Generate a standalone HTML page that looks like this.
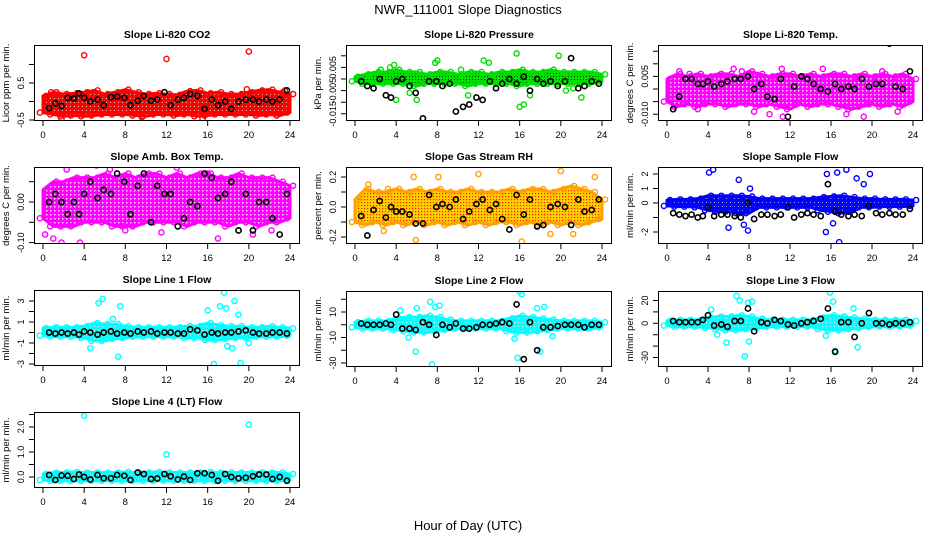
<!DOCTYPE html>
<html><head><meta charset="utf-8"><style>
html,body{margin:0;padding:0;background:#fff;}
svg text{font-family:"Liberation Sans",Arial,sans-serif;}
</style></head><body>
<svg id="chart" width="936" height="540" viewBox="0 0 936 540" xmlns="http://www.w3.org/2000/svg">
<defs>
<pattern id="pg" width="3" height="3" patternUnits="userSpaceOnUse"><rect width="3" height="3" fill="#00e000"/><rect x="1" y="1" width="1" height="1" fill="#004000"/></pattern>
<pattern id="po" width="3" height="3" patternUnits="userSpaceOnUse"><rect width="3" height="3" fill="#ffd000"/><rect x="1" y="1" width="1.2" height="1.2" fill="#ff2000"/></pattern>
<pattern id="pr" width="4" height="4" patternUnits="userSpaceOnUse"><rect width="4" height="4" fill="#ff0000"/><rect x="2" y="2" width="1" height="1" fill="#ffb0b0"/></pattern>
<pattern id="pm" width="4" height="4" patternUnits="userSpaceOnUse"><rect width="4" height="4" fill="#ff00ff"/><rect x="2" y="2" width="1.5" height="1.5" fill="#ffd0ff"/></pattern>
<pattern id="pb" width="4" height="4" patternUnits="userSpaceOnUse"><rect width="4" height="4" fill="#0000ff"/><rect x="2" y="2" width="1" height="1" fill="#a0a0ff"/></pattern>
<pattern id="pc" width="4" height="4" patternUnits="userSpaceOnUse"><rect width="4" height="4" fill="#00ffff"/><rect x="2" y="2" width="1" height="1" fill="#c0ffff"/></pattern>
</defs>
<text x="468" y="14" text-anchor="middle" font-size="13">NWR_111001  Slope Diagnostics</text>
<text x="468" y="530" text-anchor="middle" font-size="13">Hour of Day (UTC)</text>
</svg>
<script>
// shared hour grids
const bandHours = [0,1,2,3,4,5,6,7,8,9,10,11,12,13,14,15,16,17,18,19,20,21,22,23,24];
const blackHours = [0.6,1.2,1.8,2.4,3.0,3.5,4.0,4.6,5.3,5.9,6.6,7.2,7.9,8.5,9.2,9.8,10.5,11.1,11.8,12.4,13.1,13.7,14.3,15.0,15.7,16.4,17.0,17.7,18.3,19.0,19.7,20.4,21.0,21.7,22.3,23.0,23.7];
const xTickValues = [0,4,8,12,16,20,24];

// CO2
const co2Hi = [0.15,0.25,0.2,0.22,0.25,0.3,0.2,0.25,0.32,0.25,0.2,0.22,0.2,0.18,0.28,0.3,0.22,0.25,0.2,0.2,0.25,0.3,0.32,0.25,0.2];
const co2Lo = [-0.3,-0.35,-0.4,-0.38,-0.4,-0.38,-0.35,-0.35,-0.35,-0.38,-0.4,-0.35,-0.35,-0.38,-0.35,-0.4,-0.38,-0.35,-0.35,-0.35,-0.35,-0.38,-0.35,-0.38,-0.3];
const co2Black = [-0.18,-0.05,-0.12,0.1,0.08,0.22,0.1,0.0,0.05,-0.1,0.12,0.13,0.1,-0.1,0.02,0.15,0.02,0.05,0.25,-0.1,0.05,0.1,0.2,0.15,-0.2,0.05,-0.1,0.0,-0.2,0.0,0.05,0.05,0.0,0.05,0.0,0.05,0.3];
const co2OutX = [4,12,20,1.8,15.5,23.5,0.8,9.6,19.8];
const co2OutY = [1.25,1.15,1.35,-0.47,-0.47,0.3,0.25,-0.42,0.33];
// Pressure
const presHi = [0.001,0.002,0.003,0.003,0.004,0.003,0.003,0.002,0.003,0.003,0.002,0.003,0.003,0.002,0.003,0.003,0.004,0.003,0.003,0.004,0.003,0.003,0.003,0.003,0.002];
const presLo = [-0.001,-0.002,-0.002,-0.002,-0.002,-0.002,-0.003,-0.002,-0.002,-0.002,-0.002,-0.003,-0.002,-0.002,-0.002,-0.002,-0.003,-0.002,-0.002,-0.002,-0.002,-0.002,-0.002,-0.002,-0.001];
const presBlack = [-0.001,-0.003,-0.004,0.0,-0.007,-0.008,-0.001,0.0,-0.003,-0.006,-0.017,-0.001,-0.001,-0.003,-0.002,-0.014,-0.012,-0.011,-0.008,-0.009,-0.001,-0.004,-0.002,0.0,-0.002,0.001,-0.005,0.0,-0.002,-0.001,-0.003,-0.001,0.009,-0.004,-0.003,-0.001,-0.002];
const presOutX = [3.4,3.8,4,5.3,6,7.8,8,10.3,12.5,13,15.7,16,16.4,17,19.8,20.5,21.2,22,11,2.5];
const presOutY = [0.005,0.006,-0.009,-0.006,-0.009,0.007,0.008,0.004,0.008,0.007,0.011,-0.012,-0.011,-0.007,0.01,-0.005,-0.004,-0.008,-0.007,0.004];
// Li-820 Temp
const tempHi = [0.004,0.006,0.005,0.006,0.005,0.006,0.006,0.005,0.007,0.006,0.005,0.006,0.006,0.005,0.006,0.005,0.006,0.006,0.005,0.006,0.005,0.006,0.005,0.006,0.004];
const tempLo = [-0.005,-0.007,-0.006,-0.007,-0.006,-0.006,-0.007,-0.006,-0.006,-0.007,-0.006,-0.007,-0.008,-0.006,-0.007,-0.006,-0.006,-0.007,-0.008,-0.007,-0.006,-0.007,-0.006,-0.007,-0.005];
const tempBlack = [-0.008,-0.003,0.004,0.004,0.002,0.002,0.003,0.001,0.002,0.003,0.004,0.004,0.005,0.0,0.002,-0.003,-0.004,0.004,-0.011,0.001,0.005,0.004,0.002,0.0,-0.001,0.002,0.0,0.001,0.0,0.004,0.001,0.002,0.002,0.018,0.001,0.0,0.007];
const tempOutX = [1.2,2.2,6.5,7.3,11.2,11.3,15.2,19.2,10,17.5,22.5,3,21,8.5];
const tempOutY = [0.007,0.006,0.008,0.007,0.008,-0.011,0.008,-0.011,-0.010,-0.010,-0.009,-0.008,0.007,-0.009];
// Amb box temp
const ambHi = [0.03,0.05,0.05,0.06,0.06,0.06,0.07,0.06,0.07,0.06,0.07,0.07,0.06,0.07,0.06,0.07,0.07,0.06,0.06,0.07,0.06,0.06,0.06,0.05,0.04];
const ambLo = [-0.04,-0.06,-0.06,-0.06,-0.05,-0.05,-0.05,-0.06,-0.06,-0.06,-0.05,-0.05,-0.05,-0.05,-0.06,-0.05,-0.05,-0.05,-0.06,-0.05,-0.05,-0.06,-0.05,-0.05,-0.04];
const ambBlack = [0.0,0.02,0.0,-0.03,0.0,-0.03,0.02,0.05,0.01,0.03,0.02,0.07,0.05,-0.03,0.04,0.07,-0.05,0.04,0.02,0.02,-0.06,-0.04,0.0,-0.01,0.07,0.06,0.01,0.02,0.05,-0.07,0.02,-0.07,0.0,0.0,-0.04,-0.08,0.02];
const ambOutX = [1,1.8,3.6,2.3,5.2,13,16,17,8,0.2,11.5,20.4,22.2,6.5];
const ambOutY = [-0.09,-0.1,-0.1,0.08,0.09,0.085,0.07,-0.09,-0.07,-0.08,-0.075,-0.08,-0.07,0.08];
// Gas stream RH
const rhHi = [0.05,0.12,0.1,0.1,0.12,0.1,0.12,0.1,0.12,0.1,0.1,0.12,0.1,0.1,0.1,0.12,0.1,0.12,0.12,0.1,0.12,0.14,0.12,0.1,0.05];
const rhLo = [-0.1,-0.12,-0.1,-0.12,-0.1,-0.12,-0.1,-0.12,-0.1,-0.12,-0.1,-0.12,-0.1,-0.12,-0.1,-0.1,-0.12,-0.1,-0.12,-0.1,-0.12,-0.1,-0.12,-0.1,-0.08];
const rhBlack = [-0.06,-0.19,-0.02,0.04,-0.07,0.0,-0.03,-0.03,-0.05,-0.11,-0.11,0.08,0.0,0.02,0.0,0.05,-0.08,-0.03,0.02,0.05,-0.02,0.02,-0.08,-0.15,0.08,-0.05,0.05,-0.13,-0.12,0.0,0.02,0.0,-0.12,0.05,-0.03,-0.02,0.05];
const rhOutX = [5.7,8.1,12,20,16.2,5.9,19,1.3,2.8,21.2,23.3,3.2];
const rhOutY = [0.2,0.2,0.22,0.24,-0.23,-0.22,-0.18,0.15,-0.16,-0.18,0.2,0.12];
// Sample flow
const sfHi = [0.2,0.25,0.25,0.3,0.5,0.5,0.5,0.5,0.45,0.3,0.3,0.3,0.3,0.3,0.3,0.4,0.45,0.5,0.4,0.3,0.3,0.25,0.25,0.25,0.2];
const sfLo = [-0.2,-0.25,-0.25,-0.3,-0.5,-0.6,-0.6,-0.7,-0.7,-0.3,-0.3,-0.3,-0.3,-0.3,-0.3,-0.5,-0.6,-0.7,-0.6,-0.3,-0.3,-0.25,-0.25,-0.25,-0.2];
const sfBlack = [-0.7,-0.8,-0.9,-0.8,-1.0,-0.9,-0.3,-0.9,-0.8,-0.8,-0.9,-1.0,0.0,-1.1,-0.8,-0.8,-0.9,-0.8,-0.3,-1.0,-0.8,-0.7,-0.8,-0.9,1.3,-0.6,-0.8,-0.9,-0.8,-0.9,-0.2,-0.7,-0.8,-0.7,-0.8,-0.8,-0.4];
const sfOutX = [4.1,4.5,7,8.1,7.9,7.5,15.6,16.6,17.5,19.8,15.5,16.2,16.8,6,18.5,19.2];
const sfOutY = [2.1,2.3,1.6,1.0,-1.9,-1.5,2.0,2.1,2.3,2.0,-2.0,-1.4,-2.7,-1.7,1.7,1.3];
// Line 1 flow
const l1Hi = [0.4,0.5,0.5,0.5,0.6,0.9,0.8,0.8,0.6,0.5,0.5,0.5,0.5,0.5,0.6,0.6,0.9,0.7,0.6,0.6,0.5,0.5,0.6,0.5,0.4];
const l1Lo = [-0.3,-0.4,-0.4,-0.4,-0.5,-0.8,-0.8,-0.6,-0.5,-0.4,-0.4,-0.4,-0.4,-0.4,-0.5,-0.5,-0.7,-0.7,-0.6,-0.5,-0.5,-0.4,-0.4,-0.4,-0.3];
const l1Black = [0.0,-0.1,0.0,-0.1,0.0,-0.2,0.1,0.0,-0.2,0.0,0.1,-0.1,0.0,-0.1,0.1,0.0,0.1,-0.1,0.0,0.0,-0.1,-0.1,0.3,0.2,-0.2,0.0,-0.1,0.0,0.0,0.1,0.2,0.0,-0.1,-0.1,0.0,0.0,-0.1];
const l1OutX = [5.4,5.8,7.5,7.3,4.6,16,16.6,17.6,17.9,18.4,18.6,17.2,19.2,19,20,17.8,6.8];
const l1OutY = [2.8,3.2,2.5,-2.3,-1.5,2.1,-3.0,3.8,-1.3,-1.5,3.0,2.5,-2.9,1.7,-1.0,2.3,1.3];
// Line 2 flow
const l2Hi = [2,3,3,3,5,6,6,7,6,4,3,3,3,3,3,5,7,6,5,4,3,3,3,3,2];
const l2Lo = [-2,-3,-3,-3,-4,-5,-6,-6,-5,-4,-3,-3,-3,-3,-3,-5,-6,-6,-5,-4,-3,-3,-3,-3,-2];
const l2Black = [1,0,0,0,1,0,8,-3,-3,-4,2,0,-8,0,-2,1,-3,-3,-2,0,0,1,2,1,16,-27,2,-20,-2,-2,-1,0,0,0,-2,0,0];
const l2OutX = [5.9,7.5,7.3,7.8,4.4,15.5,16,16.2,17.7,18.4,19.2,15.8,18,6,8.2,5.2];
const l2OutY = [-21,-31,18,14,11,-11,26,24,13,14,-9,-26,-21,13,15,-10];
// Line 3 flow
const l3Hi = [2,3,3,3,5,6,6,7,6,4,3,3,3,3,3,5,7,6,5,4,3,3,3,3,2];
const l3Lo = [-2,-3,-3,-3,-4,-5,-6,-6,-5,-4,-3,-3,-3,-3,-3,-5,-6,-6,-5,-4,-3,-3,-3,-3,-2];
const l3Black = [2,1,1,1,1,3,7,-2,-1,-3,2,2,13,-7,1,0,3,2,-1,-2,0,1,2,4,13,-25,1,1,-12,0,9,0,0,-1,0,0,1];
const l3OutX = [6.8,7.1,7.6,7.9,8.3,5.8,4.3,15.9,16.2,16.4,15.5,18.2,18.6,8,4.9];
const l3OutY = [24,20,-29,18,19,-17,12,27,19,-24,-11,13,-21,-16,-10];
// Line 4 (LT) flow
const l4Hi = [0.12,0.18,0.18,0.2,0.18,0.18,0.18,0.18,0.2,0.18,0.18,0.2,0.18,0.18,0.18,0.18,0.2,0.18,0.18,0.18,0.18,0.18,0.18,0.18,0.12];
const l4Lo = [-0.12,-0.15,-0.15,-0.15,-0.15,-0.15,-0.15,-0.15,-0.15,-0.15,-0.15,-0.15,-0.15,-0.15,-0.15,-0.15,-0.15,-0.15,-0.15,-0.15,-0.15,-0.15,-0.15,-0.15,-0.12];
const l4Black = [0.08,-0.12,0.06,0.05,-0.08,0.1,0.0,-0.1,0.08,-0.05,-0.05,0.08,0.05,-0.12,0.18,0.12,-0.08,-0.06,0.12,0.03,-0.1,0.02,-0.12,0.15,0.15,0.08,-0.15,0.12,0.0,-0.05,-0.03,0.03,0.1,0.1,-0.08,0.0,-0.15];
const l4OutX = [4,20,12];
const l4OutY = [2.45,2.1,0.9];

const svg = document.getElementById('chart');
const NS = 'http://www.w3.org/2000/svg';
function mk(tag, attrs, parent) {
  const e = document.createElementNS(NS, tag);
  for (const k in attrs) e.setAttribute(k, attrs[k]);
  (parent || svg).appendChild(e);
  return e;
}

const panels = [
 {key:'co2', title:'Slope Li-820 CO2', ylab:'Licor ppm per min.', box:[34,300,45,121], cal:[-0.5,120,0.5,83], ticks:[-0.5,0,0.5,1.0], labels:['-0.5','','0.5',''], hi:co2Hi, lo:co2Lo, blk:co2Black, ox:co2OutX, oy:co2OutY, col:'#ff0000', fill:'url(#pr)'},
 {key:'pressure', title:'Slope Li-820 Pressure', ylab:'kPa per min.', box:[346,612,45,121], cal:[0,79,0.005,67.4], ticks:[0.01,0.005,0,-0.005,-0.01,-0.015], labels:['','0.005','','-0.005','','-0.015'], hi:presHi, lo:presLo, blk:presBlack, ox:presOutX, oy:presOutY, col:'#00e000', fill:'url(#pg)'},
 {key:'li820-temp', title:'Slope Li-820 Temp.', ylab:'degrees C per min.', box:[658,923,45,121], cal:[0,89,0.005,76.4], ticks:[0.015,0.01,0.005,0,-0.005,-0.01], labels:['','','0.005','','','-0.010'], hi:tempHi, lo:tempLo, blk:tempBlack, ox:tempOutX, oy:tempOutY, col:'#ff00ff', fill:'url(#pm)'},
 {key:'amb-box-temp', title:'Slope Amb. Box Temp.', ylab:'degrees C per min.', box:[34,300,167,244], cal:[0,202,0.05,181.7], ticks:[0.05,0,-0.05,-0.1], labels:['','0.00','','-0.10'], hi:ambHi, lo:ambLo, blk:ambBlack, ox:ambOutX, oy:ambOutY, col:'#ff00ff', fill:'url(#pm)'},
 {key:'gas-rh', title:'Slope Gas Stream RH', ylab:'percent per min.', box:[346,612,167,244], cal:[0,207,0.2,177], ticks:[0.2,0.1,0,-0.1,-0.2], labels:['0.2','','0.0','','-0.2'], hi:rhHi, lo:rhLo, blk:rhBlack, ox:rhOutX, oy:rhOutY, col:'#ffa000', fill:'url(#po)'},
 {key:'sample-flow', title:'Slope Sample Flow', ylab:'ml/min per min.', box:[658,923,167,244], cal:[0,203,2,174], ticks:[2,1,0,-1,-2], labels:['2','1','0','','-2'], hi:sfHi, lo:sfLo, blk:sfBlack, ox:sfOutX, oy:sfOutY, col:'#0000ff', fill:'url(#pb)'},
 {key:'line1-flow', title:'Slope Line 1 Flow', ylab:'ml/min per min.', box:[34,300,290,366], cal:[1,322,-1,343], ticks:[3,2,1,0,-1,-2,-3], labels:['3','','1','','-1','','-3'], hi:l1Hi, lo:l1Lo, blk:l1Black, ox:l1OutX, oy:l1OutY, col:'#00ffff', fill:'url(#pc)'},
 {key:'line2-flow', title:'Slope Line 2 Flow', ylab:'ml/min per min.', box:[346,612,291,367], cal:[10,312,-30,363], ticks:[20,10,0,-10,-20,-30], labels:['','10','','-10','','-30'], hi:l2Hi, lo:l2Lo, blk:l2Black, ox:l2OutX, oy:l2OutY, col:'#00ffff', fill:'url(#pc)'},
 {key:'line3-flow', title:'Slope Line 3 Flow', ylab:'ml/min per min.', box:[658,923,291,367], cal:[20,300.5,-30,357.5], ticks:[20,10,0,-10,-20,-30], labels:['20','','0','','','-30'], hi:l3Hi, lo:l3Lo, blk:l3Black, ox:l3OutX, oy:l3OutY, col:'#00ffff', fill:'url(#pc)'},
 {key:'line4-flow', title:'Slope Line 4 (LT) Flow', ylab:'ml/min per min.', box:[34,300,412,488], cal:[0,477,2,427], ticks:[2.5,2,1.5,1,0.5,0], labels:['','2.0','','1.0','','0.0'], hi:l4Hi, lo:l4Lo, blk:l4Black, ox:l4OutX, oy:l4OutY, col:'#00ffff', fill:'url(#pc)'}
];

panels.forEach(p => {
  const [x0,x1,y0,y1] = p.box;
  const g = mk('g', {});
  
  
  const xs = h => (x0 + 9) + h * ((x1 - 10) - (x0 + 9)) / 24;
  const [va, pa, vb, pb] = p.cal;
  const ys = v => pa + (v - va) * (pb - pa) / (vb - va);
  const clipId = 'clip-' + p.key;
  const cp = mk('clipPath', {id: clipId}, g);
  mk('rect', {x: x0, y: y0, width: x1 - x0, height: y1 - y0}, cp);
  const plot = mk('g', {'clip-path': 'url(#' + clipId + ')'}, g);
  
  
  let pts = bandHours.map((h, i) => xs(h) + ',' + ys(p.hi[i]));
  pts = pts.concat(bandHours.map((h, i) => xs(h) + ',' + ys(p.lo[i])).reverse());
  const band = mk('polygon', {points: pts.join(' '), fill: p.fill, stroke: p.col, 'stroke-width': 3, 'stroke-linejoin': 'round'}, plot);
  
  
  bandHours.forEach((h, i) => {
    const a = mk('circle', {cx: xs(h + 0.3), cy: ys(p.hi[i]), r: 2.6, fill: 'none', stroke: p.col, 'stroke-width': 1.4}, plot);
    
    
    const b = mk('circle', {cx: xs(h - 0.3), cy: ys(p.lo[i]), r: 2.6, fill: 'none', stroke: p.col, 'stroke-width': 1.4}, plot);
    
    
  });
  p.ox.forEach((h, i) => {
    const c = mk('circle', {cx: xs(h), cy: ys(p.oy[i]), r: 2.6, fill: 'none', stroke: p.col, 'stroke-width': 1.4}, plot);
    
    
  });
  blackHours.forEach((h, i) => {
    const c = mk('circle', {cx: xs(h), cy: ys(p.blk[i]), r: 2.6, fill: 'none', stroke: '#000', 'stroke-width': 1.6}, plot);
    
    
  });
  const frame = mk('rect', {x: x0 + 0.5, y: y0 + 0.5, width: x1 - x0 - 1, height: y1 - y0 - 1, fill: 'none', stroke: '#000', 'stroke-width': 1}, g);
  
  
  const t = mk('text', {x: (x0 + x1) / 2, y: y0 - 7, 'text-anchor': 'middle', 'font-size': 10.5, 'font-weight': 'bold'}, g);
  t.textContent = p.title;
  
  
  xTickValues.forEach(v => {
    mk('line', {x1: xs(v), x2: xs(v), y1: y1, y2: y1 + 5, stroke: '#000'}, g);
    const tl = mk('text', {x: xs(v), y: y1 + 17, 'text-anchor': 'middle', 'font-size': 9.5}, g);
    tl.textContent = v;
    
    
  });
  p.ticks.forEach((v, i) => {
    const yy = ys(v);
    if (yy < y0 - 1 || yy > y1 + 1) return;
    mk('line', {x1: x0 - 5, x2: x0, y1: yy, y2: yy, stroke: '#000'}, g);
    if (p.labels[i]) {
      const tl = mk('text', {x: x0 - 10, y: yy, 'text-anchor': 'middle', 'font-size': 9, transform: 'rotate(-90 ' + (x0 - 10) + ' ' + yy + ')'}, g);
      tl.textContent = p.labels[i];
      
      
    }
  });
  const yl = mk('text', {x: x0 - 25, y: (y0 + y1) / 2, 'text-anchor': 'middle', 'font-size': 9.5, transform: 'rotate(-90 ' + (x0 - 25) + ' ' + ((y0 + y1) / 2) + ')'}, g);
  yl.textContent = p.ylab;
  
  
});
</script>
</body></html>
